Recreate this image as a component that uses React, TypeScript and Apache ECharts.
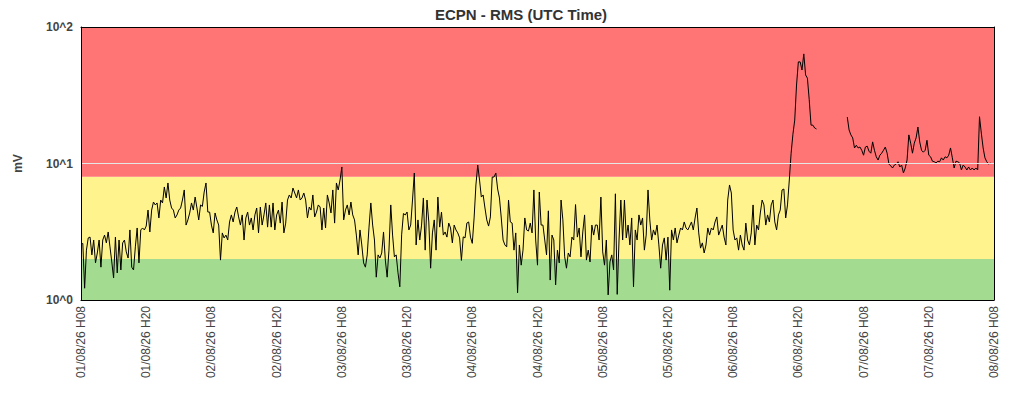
import React, { useEffect, useRef } from "react";
import * as echarts from "echarts";

const chartTitle = "ECPN - RMS (UTC Time)";
const yAxisName = "mV";
const xTickLabels = [
  "01/08/26 H08", "01/08/26 H20", "02/08/26 H08", "02/08/26 H20",
  "03/08/26 H08", "03/08/26 H20", "04/08/26 H08", "04/08/26 H20",
  "05/08/26 H08", "05/08/26 H20", "06/08/26 H08", "06/08/26 H20",
  "07/08/26 H08", "07/08/26 H20", "08/08/26 H08",
];
const yTickLabels = ["10^0", "10^1", "10^2"];
const tickHours = 12;
const stepHours = 1 / 3; // one reading every 20 minutes

// threshold bands (mV): green, yellow, red
const bandLimits = [1, 2, 8, 100];

// RMS readings (mV) every 20 minutes, from 01/08/26 H08 (null = no data)
const day1 = [
  2.53, 2.6, 1.22, 2.32, 2.85, 2.89, 2.14, 2.75, 1.87, 2.21, 2.75, 1.74,
  2.75, 2.99, 2.62, 3.15, 2.45, 1.9, 1.45, 2.89, 1.58, 2.75, 1.66, 2.62,
  2.75, 2.25, 2.03, 3.26, 1.74, 1.66, 2.45, 3.37, 1.87, 3.26, 3.37, 3.26,
  3.48, 4.56, 3.15, 4.56, 5.22, 4.97, 5.14, 3.99, 5.4, 5.14, 6.73, 5.59,
  7.2, 5.4, 4.72, 4.56, 3.99, 4.2, 4.56, 4.72, 5.4, 6.4, 3.54, 3.86,
  4.34, 5.14, 4.56, 5.68, 4.72, 3.86, 4.97, 4.85, 6.18, 7.2, 4.41, 4.41,
];
const day2 = [
  3.54, 3.1, 4.34, 3.86, 3.54, 1.96, 3.1, 2.85, 2.99, 2.75, 3.73, 4.2,
  3.73, 4.41, 4.8, 4.06, 3.54, 4.2, 2.75, 3.99, 4.41, 3.54, 3.99, 3.26,
  4.2, 4.72, 3.1, 4.8, 3.54, 4.2, 5.14, 3.42, 4.97, 3.42, 5.14, 3.26,
  4.2, 4.56, 3.66, 5.22, 3.1, 3.66, 5.4, 5.88, 5.59, 6.61, 6.08, 5.59,
  6.4, 5.4, 5.59, 6.08, 5.4, 3.99, 4.8, 4.56, 5.88, 4.06, 4.41, 4.97,
  4.8, 3.26, 4.72, 3.37, 5.88, 5.14, 4.34, 6.4, 3.66, 7.2, 6.4, 7.57,
];
const day3 = [
  9.43, 3.86, 4.56, 4.97, 4.2, 5.22, 4.2, 3.86, 2.99, 2.14, 3.26, 2.53,
  1.87, 1.74, 2.14, 3.42, 5.14, 3.54, 2.75, 1.47, 2.14, 2.03, 2.21, 3.15,
  1.96, 1.47, 2.32, 4.97, 2.99, 2.07, 2.14, 1.58, 1.25, 3.0, 4.3, 4.2,
  4.41, 3.26, 3.54, 5.4, 8.52, 2.53, 3.86, 2.75, 3.54, 5.59, 2.32, 5.4,
  3.73, 1.71, 3.1, 3.86, 2.32, 5.68, 3.42, 4.41, 2.99, 3.15, 2.89, 3.66,
  3.37, 2.62, 3.54, 3.26, 3.1, 2.85, 1.95, 2.9, 2.85, 3.66, 3.73, 2.89,
];
const day4 = [
  2.6, 3.99, 6.96, 9.75, 7.57, 5.68, 5.88, 4.72, 3.86, 3.48, 4.06, 7.96,
  7.96, 8.52, 6.5, 5.59, 3.99, 2.75, 2.53, 2.45, 5.4, 3.73, 3.66, 2.32,
  3.1, 1.13, 2.53, 1.8, 2.32, 3.99, 3.26, 3.2, 3.66, 3.1, 6.4, 2.75,
  1.8, 6.18, 3.54, 3.54, 2.75, 2.14, 4.5, 1.4, 2.99, 2.75, 1.29, 2.32,
  1.87, 5.4, 3.86, 2.07, 1.71, 2.21, 2.07, 2.89, 2.75, 5.0, 2.89, 3.37,
  2.07, 3.15, 4.2, 1.96, 2.32, 1.9, 3.54, 2.99, 3.54, 3.54, 2.75, 5.68,
];
const day5 = [
  2.25, 1.8, 2.75, 1.09, 1.9, 2.14, 1.66, 6.0, 1.1, 2.75, 5.4, 2.75,
  5.4, 2.85, 3.54, 2.53, 3.99, 1.25, 3.26, 2.75, 4.2, 3.54, 3.99, 2.32,
  2.99, 6.4, 3.86, 2.75, 3.26, 2.99, 3.54, 2.53, 1.71, 2.53, 2.85, 1.96,
  2.89, 1.18, 3.26, 2.75, 3.37, 2.62, 2.99, 3.37, 3.26, 3.73, 3.37, 3.26,
  3.48, 3.73, 3.26, 3.99, 4.72, 3.1, 2.4, 2.62, 2.21, 2.53, 3.37, 2.99,
  3.37, 3.26, 3.73, 4.06, 2.99, 3.26, 3.54, 2.89, 2.53, 5.4, 6.96, 6.08,
];
const day6 = [
  3.26, 2.75, 2.85, 2.32, 2.99, 2.53, 2.32, 3.66, 2.75, 2.53, 3.1, 4.97,
  2.53, 3.54, 3.26, 4.34, 5.4, 4.97, 3.54, 4.2, 3.73, 4.97, 5.4, 3.73,
  3.26, 4.2, 4.56, 6.4, 6.5, 3.99, 4.97, 7.57, 11.9, 16.4, 20.8, 37.6,
  55.5, 55.5, 48.4, 63.5, 44.5, 42.2, 29.3, 19.1, 19.1, 18.2, 17.9, null,
  null, null, null, null, null, null, null, null, null, null, null, null,
  null, null, null, 21.9, 17.6, 16.2, 15.4, 13.0, 13.6, 13.0, 13.2, 12.5,
];
const day7 = [
  11.5, 13.2, 13.4, 12.3, 11.9, 14.4, 12.5, 11.2, 10.6, 11.5, 11.9, 12.5,
  13.2, 11.9, 9.9, 9.6, 9.27, 9.75, 9.9, 10.3, 9.43, 9.75, 8.52, 9.27,
  10.6, 16.2, 14.1, 11.9, 14.1, 15.4, 18.5, 14.4, 12.5, 12.1, 12.5, 14.8,
  11.5, 11.2, 10.4, 10.3, 10.1, 10.4, 10.3, 11.0, 10.6, 11.2, 11.0, 11.5,
  13.0, 11.0, 9.27, 10.4, 10.3, 10.1, 8.96, 9.75, 9.43, 8.96, 9.43, 8.96,
  9.27, 8.96, 9.27, 8.96, 22.0, 16.7, 13.0, 11.0, 10.3, 9.9, 10.1, null,
  null,
];

const rmsValues: (number | null)[] = [...day1, ...day2, ...day3, ...day4, ...day5, ...day6, ...day7];

export default function App() {
  const ref = useRef<HTMLDivElement>(null);
  useEffect(() => {
    if (!ref.current) return;
    const chart = echarts.init(ref.current, undefined, { renderer: "svg" });
    const font = "'Liberation Sans', Arial, Helvetica, sans-serif";
    const seriesData = rmsValues.map((v, i) => [i * stepHours, v === null ? "-" : v]);
    const xMax = (xTickLabels.length - 1) * tickHours;
    const bandColors = ["#a3db91", "#fff38e", "#ff7474"];
    const bands = bandColors.map((c, k) => [
      { yAxis: bandLimits[k], itemStyle: { color: c, opacity: 1 } },
      { yAxis: bandLimits[k + 1] },
    ]);
    chart.setOption({
      animation: false,
      backgroundColor: "#fff",
      textStyle: { fontFamily: font },
      title: {
        text: chartTitle,
        left: 516,
        textAlign: "center",
        top: 2,
        textStyle: { fontSize: 15, fontWeight: "bold", color: "#333", fontFamily: font },
      },
      grid: { left: 81, right: 30, top: 27, bottom: 100, containLabel: false },
      xAxis: [
        {
          type: "value",
          min: 0,
          max: xMax,
          interval: tickHours,
          z: 10,
          axisLine: { show: true, lineStyle: { color: "#000", width: 1 } },
          axisTick: { show: false },
          splitLine: { show: false },
          axisLabel: {
            rotate: 90,
            margin: 6,
            fontSize: 12,
            color: "#444",
            fontFamily: font,
            formatter: (v: number) => xTickLabels[Math.round(v / tickHours)] ?? "",
          },
        },
        {
          type: "value",
          position: "top",
          min: 0,
          max: xMax,
          z: 10,
          axisLine: { show: true, onZero: false, lineStyle: { color: "#000", width: 1 } },
          axisTick: { show: false },
          axisLabel: { show: false },
          splitLine: { show: false },
        },
      ],
      yAxis: [
        {
          type: "log",
          logBase: 10,
          min: 1,
          max: 100,
          z: 10,
          name: yAxisName,
          nameLocation: "middle",
          nameGap: 57,
          nameRotate: 90,
          nameTextStyle: { fontSize: 12, fontWeight: "bold", color: "#444", fontFamily: font },
          axisLine: { show: true, lineStyle: { color: "#000", width: 1 } },
          axisTick: { show: false },
          splitLine: { show: false },
          axisLabel: {
            margin: 8,
            fontSize: 12,
            fontWeight: "bold",
            color: "#444",
            fontFamily: font,
            formatter: (v: number) => yTickLabels[Math.round(Math.log10(v))] ?? "",
          },
        },
        {
          type: "log",
          logBase: 10,
          min: 1,
          max: 100,
          position: "right",
          z: 10,
          axisLine: { show: true, onZero: false, lineStyle: { color: "#000", width: 1 } },
          axisTick: { show: false },
          axisLabel: { show: false },
          splitLine: { show: false },
        },
      ],
      series: [
        {
          name: "bands",
          type: "line",
          data: [],
          z: 1,
          silent: true,
          markArea: { silent: true, data: bands },
        },
        {
          name: "grid10",
          type: "line",
          data: [],
          z: 2,
          silent: true,
          markLine: {
            silent: true,
            symbol: ["none", "none"],
            label: { show: false },
            lineStyle: { color: "#e6e6e6", width: 1, type: "solid" },
            data: [{ yAxis: 10 }],
          },
        },
        {
          name: "RMS",
          type: "line",
          data: seriesData,
          z: 3,
          showSymbol: false,
          symbol: "none",
          connectNulls: false,
          lineStyle: { color: "#000", width: 1 },
        },
      ],
    });
    return () => chart.dispose();
  }, []);
  return <div ref={ref} style={{ position: "fixed", left: 0, top: 0, width: 1024, height: 400 }} />;
}
